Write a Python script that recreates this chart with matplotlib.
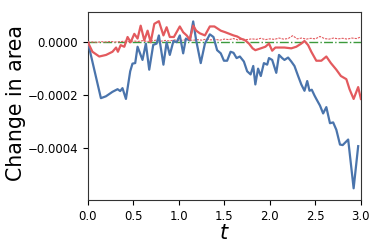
import numpy as np
import matplotlib
matplotlib.use("Agg")
import matplotlib.pyplot as plt

# blue curve (t, change in area)
t_blue = [0.0, 0.143, 0.198, 0.27, 0.326, 0.355, 0.38, 0.418, 0.465, 0.49, 0.52, 0.546,
          0.6, 0.637, 0.674, 0.718, 0.755, 0.78, 0.83, 0.865, 0.9, 0.94, 0.975, 1.01,
          1.047, 1.077, 1.12, 1.157, 1.19, 1.24, 1.286, 1.34, 1.38, 1.42, 1.46, 1.495,
          1.53, 1.568, 1.6, 1.634, 1.67, 1.714, 1.75, 1.788, 1.817, 1.84, 1.87, 1.9,
          1.934, 1.97, 1.99, 2.025, 2.07, 2.1, 2.135, 2.16, 2.2, 2.235, 2.27, 2.31,
          2.345, 2.38, 2.41, 2.435, 2.46, 2.49, 2.51, 2.55, 2.585, 2.62, 2.66, 2.695,
          2.73, 2.77, 2.8, 2.86, 2.92, 2.97]
v_blue = [0.0, -2.12, -2.05, -1.88, -1.78, -1.85, -1.74, -2.15, -1.10, -0.81, -0.79, -0.17,
          -0.67, -0.05, -1.04, -0.10, -0.05, 0.26, -0.85, 0.0, -0.48, 0.05, 0.0, 0.26,
          -0.42, 0.14, 0.07, 0.79, 0.07, -0.79, -0.05, 0.30, 0.20, -0.30, -0.42, -0.70,
          -0.70, -0.36, -0.40, -0.60, -0.54, -0.73, -1.10, -1.22, -0.90, -1.60, -1.00, -1.28,
          -0.79, -0.85, -0.60, -0.67, -1.16, -0.48, -0.60, -0.67, -0.58, -0.73, -0.90, -1.28,
          -1.60, -1.84, -1.47, -1.84, -1.80, -2.02, -2.15, -2.40, -2.70, -2.46, -3.07, -3.04,
          -3.32, -3.88, -3.90, -3.69, -5.54, -3.94]

# red curve
t_red = [0.0, 0.05, 0.125, 0.2, 0.27, 0.31, 0.33, 0.36, 0.4, 0.436, 0.47, 0.51, 0.546,
         0.58, 0.62, 0.656, 0.69, 0.73, 0.78, 0.83, 0.865, 0.9, 0.945, 1.01, 1.047,
         1.085, 1.12, 1.157, 1.19, 1.23, 1.286, 1.34, 1.39, 1.46, 1.51, 1.6, 1.64,
         1.68, 1.73, 1.77, 1.81, 1.84, 1.9, 1.95, 1.99, 2.025, 2.06, 2.12, 2.16,
         2.235, 2.29, 2.345, 2.38, 2.42, 2.455, 2.51, 2.565, 2.62, 2.67, 2.73, 2.78,
         2.84, 2.875, 2.92, 2.97, 3.0]
v_red = [0.0, -0.36, -0.54, -0.48, -0.36, -0.20, -0.36, -0.11, -0.17, 0.20, 0.0, 0.32, 0.14,
         0.63, 0.07, 0.44, 0.0, 0.70, 0.80, 0.26, 0.57, 0.20, 0.20, 0.60, 0.38,
         0.26, 0.10, 0.63, 0.44, 0.34, 0.26, 0.60, 0.60, 0.44, 0.38, 0.26, 0.22,
         0.14, 0.07, -0.05, -0.23, -0.30, -0.23, -0.17, -0.05, -0.32, -0.20, -0.20, -0.20,
         -0.23, -0.17, -0.05, 0.05, -0.11, -0.36, -0.70, -0.70, -0.54, -0.79, -1.04, -1.28,
         -1.40, -1.78, -2.15, -1.70, -2.15]

# thin noisy red line just above zero (step 0.05)
v_noise = [0.0, 0.01, 0.0, 0.02, 0.01, 0.03, 0.01, 0.02, 0.04, 0.02, 0.05, 0.03,
           0.06, 0.03, 0.05, 0.08, 0.04, 0.07, 0.05, 0.09, 0.06, 0.08, 0.11, 0.07,
           0.10, 0.08, 0.12, 0.09, 0.11, 0.08, 0.12, 0.10, 0.14, 0.09, 0.12, 0.10,
           0.13, 0.11, 0.15, 0.10, 0.13, 0.11, 0.16, 0.12, 0.14, 0.25, 0.13, 0.16,
           0.12, 0.15, 0.13, 0.22, 0.14, 0.12, 0.16, 0.13, 0.15, 0.12, 0.16, 0.14, 0.2]
t_noise = np.linspace(0, 3, len(v_noise))

scale = 1e-4
fig = plt.figure(figsize=(3.74, 2.49), dpi=100)
ax = fig.add_axes([0.235, 0.195, 0.73, 0.757])

ax.axhline(0, color="#3c9a3c", lw=1.0, ls="-.", zorder=1)
ax.plot(t_noise, np.array(v_noise) * scale, color="#e35a5e", lw=0.8, ls="--",
        dashes=(2, 1), zorder=2)
ax.plot(t_blue, np.array(v_blue) * scale, color="#4a74ac", lw=1.6, zorder=3)
ax.plot(t_red, np.array(v_red) * scale, color="#e35a5e", lw=1.6, zorder=4)

ax.set_xlim(0, 3)
ax.set_ylim(-0.0006, 0.000115)
ax.set_yticks([0.0, -0.0002, -0.0004])
ax.set_yticklabels(["0.0000", "\u22120.0002", "\u22120.0004"])
ax.set_xticks([0, 0.5, 1.0, 1.5, 2.0, 2.5, 3.0])
ax.tick_params(labelsize=8.5)
ax.set_xlabel("$t$", fontsize=15, labelpad=0)
ax.set_ylabel("Change in area", fontsize=14.8, labelpad=1)
ax.yaxis.set_label_coords(-0.225, 0.515)
for s in ax.spines.values():
    s.set_color("#333333")

fig.savefig("out.png", dpi=100)
